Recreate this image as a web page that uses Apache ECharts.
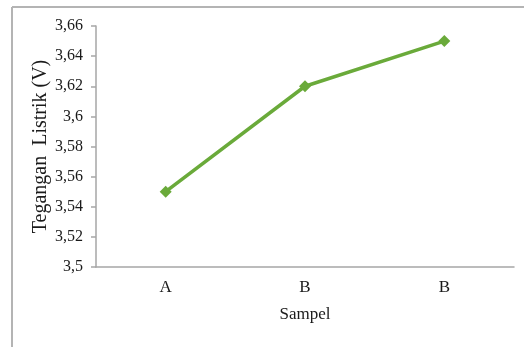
<!DOCTYPE html>
<html>
<head>
<meta charset="utf-8">
<script src="https://cdn.jsdelivr.net/npm/echarts@6/dist/echarts.min.js"></script>
<style>
  html, body { margin: 0; padding: 0; background: #fff; }
  #chart { width: 524px; height: 347px; }
</style>
</head>
<body>
<div id="chart"></div>
<script>
// data
const categories = ['A', 'B', 'B'];
const tegangan = [3.55, 3.62, 3.65];
const yMin = 3.5, yMax = 3.66, yStep = 0.02;

const font = '"Liberation Serif", "Times New Roman", serif';
const grey = '#a6a6a6';
const ink = '#1a1a1a';

const myChart = echarts.init(document.getElementById('chart'));

const option = {
  backgroundColor: '#fff',
  animation: false,
  // frame round the chart
  graphic: [
    { type: 'line', shape: { x1: 12, y1: 7, x2: 524, y2: 7 }, style: { stroke: '#b4b4b4', lineWidth: 2 } },
    { type: 'line', shape: { x1: 12, y1: 7, x2: 12, y2: 347 }, style: { stroke: '#b4b4b4', lineWidth: 2 } }
  ],
  grid: { left: 96, right: 10, top: 26, bottom: 80 },
  xAxis: {
    type: 'category',
    data: categories,
    boundaryGap: true,
    name: 'Sampel',
    nameLocation: 'middle',
    nameGap: 39,
    nameMoveOverlap: false,
    nameTextStyle: { fontFamily: font, fontSize: 17, color: ink },
    axisLine: { lineStyle: { color: grey, width: 1.5 } },
    axisTick: { show: false },
    axisLabel: { fontFamily: font, fontSize: 17, color: ink, margin: 12 }
  },
  yAxis: {
    type: 'value',
    min: yMin,
    max: yMax,
    interval: yStep,
    name: 'Tegangan  Listrik (V)',
    nameLocation: 'middle',
    nameGap: 45,
    nameMoveOverlap: false,
    nameTextStyle: { fontFamily: font, fontSize: 20, color: ink },
    axisLine: { show: true, lineStyle: { color: grey, width: 1.5 } },
    axisTick: { show: true, length: 5, lineStyle: { color: grey, width: 1.5 } },
    splitLine: { show: false },
    axisLabel: {
      fontFamily: font, fontSize: 16, color: ink, margin: 13,
      formatter: v => String(+v.toFixed(2)).replace('.', ',')
    }
  },
  series: [{
    type: 'line',
    data: tegangan,
    symbol: 'diamond',
    symbolSize: 12,
    lineStyle: { color: '#6aaa3a', width: 3.5 },
    itemStyle: { color: '#6aaa3a' }
  }]
};

myChart.setOption(option);
</script>
</body>
</html>
